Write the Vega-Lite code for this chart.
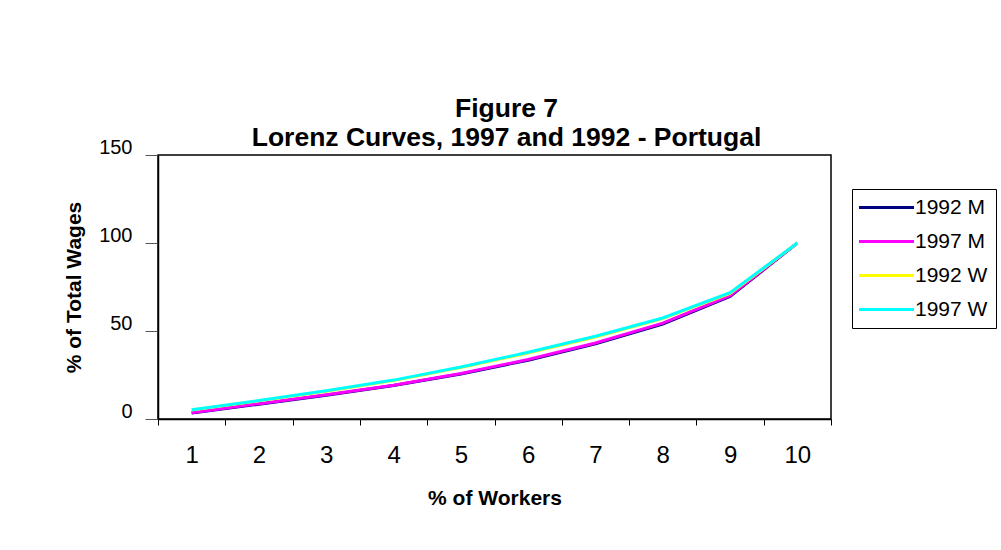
{
  "$schema": "https://vega.github.io/schema/vega-lite/v6.json",
  "width": 673,
  "height": 264,
  "autosize": {"type": "none"},
  "padding": {"left": 158, "top": 155, "right": 170, "bottom": 131},
  "background": "white",
  "title": {
    "text": ["Figure 7", "Lorenz Curves, 1997 and 1992 - Portugal"],
    "font": "Liberation Sans",
    "fontSize": 26.5,
    "fontWeight": "bold",
    "lineHeight": 29,
    "anchor": "middle",
    "frame": "group",
    "offset": 8,
    "dx": 12,
    "dy": 22,
    "color": "black"
  },
  "config": {
    "font": "Liberation Sans",
    "view": {"stroke": "black", "strokeWidth": 1.5}
  },
  "data": {
    "values": [
      {"x": 1, "series": "1992 M", "v": 3.4},
      {"x": 2, "series": "1992 M", "v": 8.4},
      {"x": 3, "series": "1992 M", "v": 13.5},
      {"x": 4, "series": "1992 M", "v": 19.0},
      {"x": 5, "series": "1992 M", "v": 25.6},
      {"x": 6, "series": "1992 M", "v": 33.4},
      {"x": 7, "series": "1992 M", "v": 42.7},
      {"x": 8, "series": "1992 M", "v": 54.0},
      {"x": 9, "series": "1992 M", "v": 69.6},
      {"x": 10, "series": "1992 M", "v": 100},
      {"x": 1, "series": "1997 M", "v": 3.6},
      {"x": 2, "series": "1997 M", "v": 8.7},
      {"x": 3, "series": "1997 M", "v": 13.8},
      {"x": 4, "series": "1997 M", "v": 19.2},
      {"x": 5, "series": "1997 M", "v": 25.8},
      {"x": 6, "series": "1997 M", "v": 33.8},
      {"x": 7, "series": "1997 M", "v": 43.2},
      {"x": 8, "series": "1997 M", "v": 54.5},
      {"x": 9, "series": "1997 M", "v": 70.1},
      {"x": 10, "series": "1997 M", "v": 100},
      {"x": 1, "series": "1992 W", "v": 5.1},
      {"x": 2, "series": "1992 W", "v": 10.3},
      {"x": 3, "series": "1992 W", "v": 15.8},
      {"x": 4, "series": "1992 W", "v": 21.8},
      {"x": 5, "series": "1992 W", "v": 29.2},
      {"x": 6, "series": "1992 W", "v": 37.5},
      {"x": 7, "series": "1992 W", "v": 46.6},
      {"x": 8, "series": "1992 W", "v": 57.0},
      {"x": 9, "series": "1992 W", "v": 71.3},
      {"x": 10, "series": "1992 W", "v": 100},
      {"x": 1, "series": "1997 W", "v": 5.3},
      {"x": 2, "series": "1997 W", "v": 10.5},
      {"x": 3, "series": "1997 W", "v": 16.1},
      {"x": 4, "series": "1997 W", "v": 22.1},
      {"x": 5, "series": "1997 W", "v": 29.5},
      {"x": 6, "series": "1997 W", "v": 37.9},
      {"x": 7, "series": "1997 W", "v": 47.0},
      {"x": 8, "series": "1997 W", "v": 57.4},
      {"x": 9, "series": "1997 W", "v": 71.8},
      {"x": 10, "series": "1997 W", "v": 100}
    ]
  },
  "mark": {"type": "line", "strokeWidth": 3},
  "encoding": {
    "x": {
      "field": "x",
      "type": "ordinal",
      "scale": {"type": "band", "paddingInner": 0, "paddingOuter": 0},
      "axis": {
        "title": "% of Workers",
        "labelAngle": 0,
        "tickBand": "extent",
        "tickSize": 6,
        "tickColor": "black",
        "domainColor": "black",
        "domainWidth": 1.5,
        "labelFontSize": 24,
        "labelColor": "black",
        "labelPadding": 18,
        "titleFontSize": 21,
        "titleFontWeight": "bold",
        "titleColor": "black",
        "titlePadding": 20
      }
    },
    "y": {
      "field": "v",
      "type": "quantitative",
      "scale": {"domain": [0, 150]},
      "axis": {
        "title": "% of Total Wages",
        "values": [0, 50, 100, 150],
        "grid": false,
        "tickSize": 13,
        "tickColor": "#555555",
        "domainColor": "black",
        "domainWidth": 1.5,
        "labelFontSize": 20,
        "labelColor": "black",
        "labelPadding": 13,
        "labelOffset": -8,
        "titleFontSize": 21,
        "titleFontWeight": "bold",
        "titleColor": "black",
        "titlePadding": 14
      }
    },
    "color": {
      "field": "series",
      "type": "nominal",
      "scale": {
        "domain": ["1992 M", "1997 M", "1992 W", "1997 W"],
        "range": ["#000080", "#FF00FF", "#FFFF00", "#00FFFF"]
      },
      "legend": {
        "orient": "none",
        "legendX": 694,
        "legendY": 34,
        "title": null,
        "symbolType": "M-5,0H5",
        "symbolSize": 121,
        "symbolStrokeWidth": 3,
        "symbolOffset": 16,
        "labelFontSize": 21,
        "labelColor": "black",
        "labelOffset": 18,
        "strokeColor": "black",
        "fillColor": "white",
        "padding": 8,
        "rowPadding": 12
      }
    }
  }
}
